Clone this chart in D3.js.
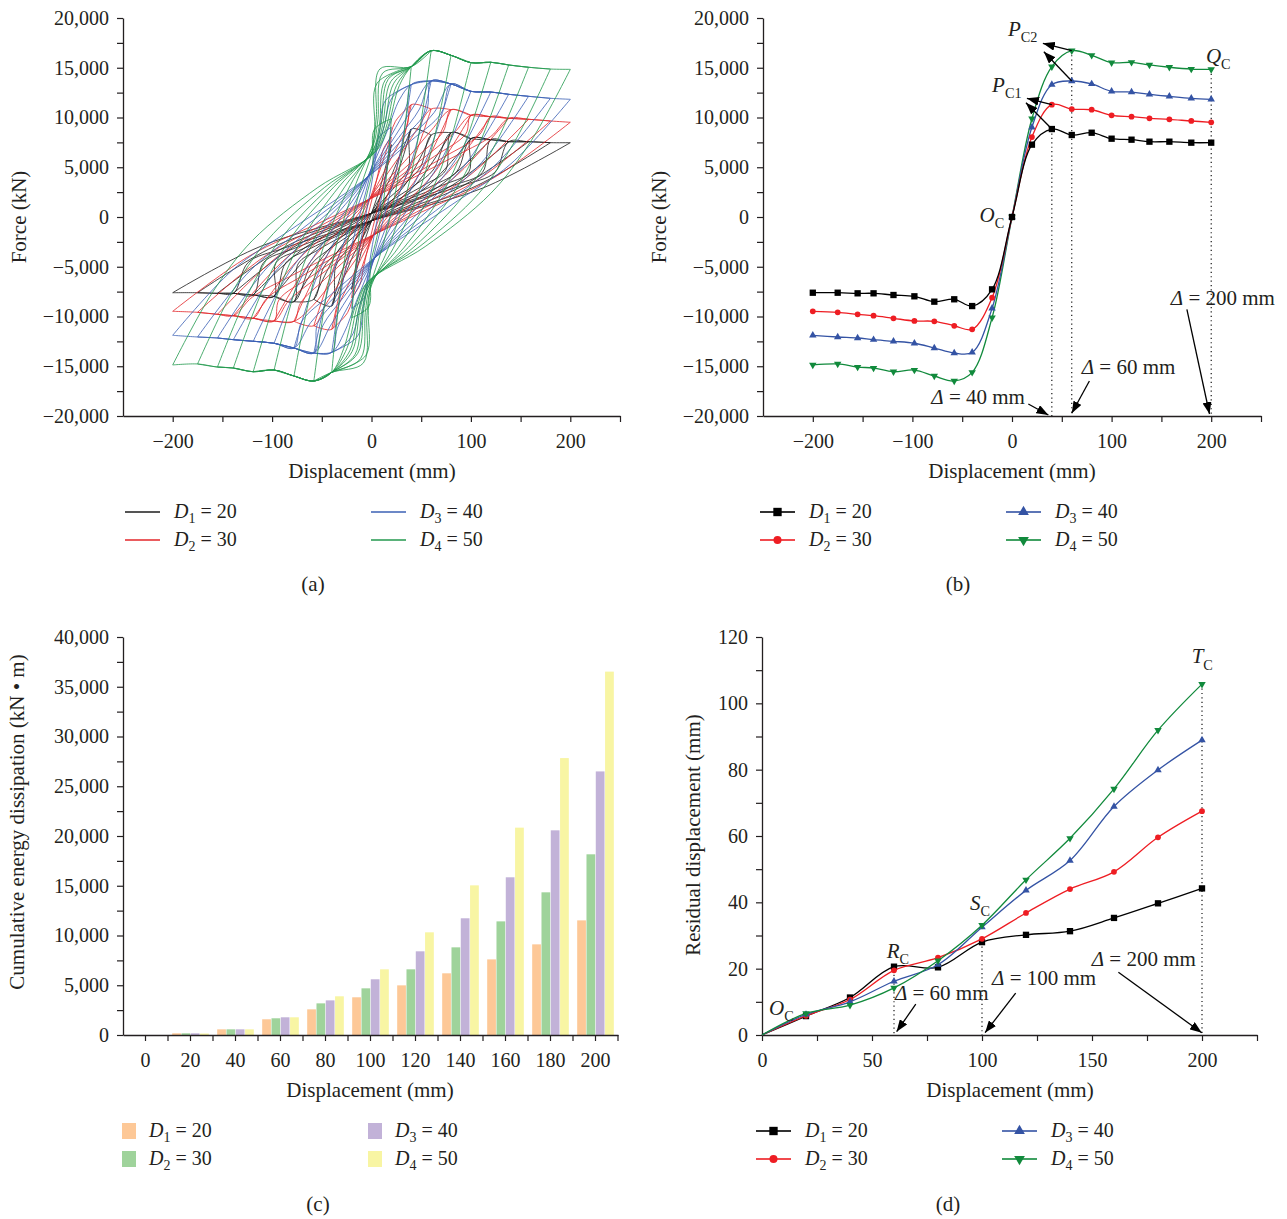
<!DOCTYPE html>
<html>
<head>
<meta charset="utf-8">
<script src="https://cdn.jsdelivr.net/npm/d3@7"></script>
<style>
body { margin: 0; background: #fff; }
svg { display: block; }
text { font-family: "Liberation Serif", "Times New Roman", serif; fill: #231f20; }
</style>
</head>
<body>
<script>
// ---- data ----
// skeleton (envelope) curves, panel (b); also the loop peaks of panel (a)
var skelX  = [-200,-175,-155,-139,-119,-98,-78,-58,-40,-20,0,20,40,60,80,100,120,138,158,180,200];
var skelD1 = [-7610,-7610,-7670,-7670,-7840,-7970,-8510,-8270,-8950,-7270,0,7270,8840,8240,8470,7870,7770,7570,7570,7470,7470];
var skelD2 = [-9480,-9580,-9780,-9920,-10180,-10450,-10480,-10930,-11290,-8110,0,8040,11290,10850,10780,10220,10080,9920,9820,9650,9520];
var skelD3 = [-11890,-12060,-12160,-12330,-12490,-12690,-13170,-13670,-13600,-9180,0,9020,13300,13670,13370,12630,12560,12330,12130,11930,11830];
var skelD4 = [-14870,-14770,-15080,-15180,-15550,-15380,-15980,-16480,-15610,-10120,0,9880,15110,16710,16250,15510,15550,15280,15050,14870,14840];

// loop shape of panel (a): loading branch from the negative peak, as fractions of peak (u = d/A, v = F/Fpeak)
var loopD1 = [[-1,-1],[-0.56,-0.39],[0,0.05],[0.45,0.42],[0.62,0.6]];
var loopD2 = [[-1,-1],[-0.62,-0.42],[-0.25,-0.05],[0.1,0.3],[0.4,0.62],[0.6,0.85]];
var loopD3 = [[-1,-1],[-0.7,-0.45],[-0.4,-0.1],[-0.05,0.3],[0.2,0.65],[0.35,0.88]];
var loopD4 = [[-1,-1],[-0.8,-0.51],[-0.6,-0.16],[-0.27,0.2],[0.02,0.44],[0.08,0.6],[0.14,0.89]];

// cumulative energy dissipation, panel (c)
var energyX  = [0,20,40,60,80,100,120,140,160,180,200];
var energyD1 = [0,170,570,1580,2580,3790,4990,6200,7600,9110,11520];
var energyD2 = [0,170,570,1680,3180,4690,6600,8810,11420,14340,18160];
var energyD3 = [0,170,570,1780,3480,5600,8410,11730,15850,20570,26490];
var energyD4 = [0,150,570,1780,3890,6600,10320,15040,20840,27830,36520];

// residual displacement, panel (d)
var resX  = [0,20,40,60,80,100,120,140,160,180,200];
var resD1 = [0,5.7,11.3,20.6,20.4,28,30.2,31.3,35.3,39.7,44.2];
var resD2 = [0,5.8,10.7,19.5,23.3,29,36.8,44,49.2,59.6,67.5];
var resD3 = [0,6.2,10,16.2,21.2,32.5,43.6,52.6,68.9,79.9,88.9];
var resD4 = [0,6.5,9,14.2,22.4,33.1,46.8,59.3,74.2,91.9,105.8];

// legend / tick labels
var seriesSub = ["1","2","3","4"];
var seriesVal = ["20","30","40","50"];
var dispLabels = [-200,-100,0,100,200];
var forceLabels = [-20000,-15000,-10000,-5000,0,5000,10000,15000,20000];
var energyLabels = [0,5000,10000,15000,20000,25000,30000,35000,40000];
var resXLabels = [0,50,100,150,200];
var resYLabels = [0,20,40,60,80,100,120];

var ink = "#231f20";
var lineColors = ["#000000","#ee1d23","#3453a4","#118a3c"];
var loopColors = ["#1c1c1c","#e3262a","#3b60b5","#23994e"];
var barColors  = ["#fdc897","#9fd39b","#c2b2d8","#f8f5a3"];
var symbols = [d3.symbolSquare, d3.symbolCircle, d3.symbolTriangle, d3.symbolTriangle];
var symSize = [40, 26, 24, 24];

var skel = [skelD1, skelD2, skelD3, skelD4];
var loops = [loopD1, loopD2, loopD3, loopD4];
var energy = [energyD1, energyD2, energyD3, energyD4];
var res = [resD1, resD2, resD3, resD4];

var svg = d3.select("body").append("svg").attr("width", 1287).attr("height", 1219);
var fmt = d3.format(",");

var defs = svg.append("defs");
defs.append("marker").attr("id", "arr")
  .attr("markerUnits", "userSpaceOnUse")
  .attr("markerWidth", 13).attr("markerHeight", 9)
  .attr("refX", 12).attr("refY", 4.5).attr("orient", "auto")
  .append("path").attr("d", "M0,0 L12,4.5 L0,9 Z").attr("fill", "#000");

function axes(g, x, y, xTicks, xLab, xFmt, yTicks, yLab, yFmt) {
  var gx = g.append("g").attr("transform", "translate(0," + y.range()[0] + ")")
    .call(d3.axisBottom(x).tickValues(xTicks).tickSize(6).tickSizeOuter(0).tickPadding(12)
      .tickFormat(function(d) { return xLab.indexOf(d) >= 0 ? xFmt(d) : ""; }));
  var gy = g.append("g").attr("transform", "translate(" + x.range()[0] + ",0)")
    .call(d3.axisLeft(y).tickValues(yTicks).tickSize(6).tickSizeOuter(0).tickPadding(8)
      .tickFormat(function(d) { return yLab.indexOf(d) >= 0 ? yFmt(d) : ""; }));
  [gx, gy].forEach(function(a) {
    a.select(".domain").attr("stroke", ink).attr("stroke-width", 1.3);
    a.selectAll(".tick line").attr("stroke", ink).attr("stroke-width", 1.2);
    a.selectAll(".tick text").attr("font-size", 20).attr("fill", ink)
      .attr("font-family", '"Liberation Serif","Times New Roman",serif');
  });
  return gx;
}

function title(g, txt, x, y, rot) {
  g.append("text").attr("transform", "translate(" + x + "," + y + ")" + (rot ? " rotate(-90)" : ""))
    .attr("text-anchor", "middle").attr("font-size", 21).text(txt);
}

function subLabel(g, x, y, main, sub, size) {
  var t = g.append("text").attr("x", x).attr("y", y).attr("font-size", size);
  t.append("tspan").attr("font-style", "italic").text(main);
  t.append("tspan").attr("font-size", size * 0.68).attr("dy", size * 0.3).text(sub);
  return t;
}

function deltaLabel(g, x, y, val) {
  var t = g.append("text").attr("x", x).attr("y", y).attr("font-size", 21);
  t.append("tspan").attr("font-style", "italic").text("\u0394");
  t.append("tspan").text(" = " + val + " mm");
}

function arrow(g, x1, y1, x2, y2) {
  g.append("line").attr("x1", x1).attr("y1", y1).attr("x2", x2).attr("y2", y2)
    .attr("stroke", "#000").attr("stroke-width", 1.3).attr("marker-end", "url(#arr)");
}

function dotted(g, x, y1, y2) {
  g.append("line").attr("x1", x).attr("x2", x).attr("y1", y1).attr("y2", y2)
    .attr("stroke", "#000").attr("stroke-width", 1.1).attr("stroke-dasharray", "1.2,3.2");
}

function legendText(g, x, y, i) {
  var t = g.append("text").attr("x", x).attr("y", y + 6).attr("font-size", 20);
  t.append("tspan").attr("font-style", "italic").text("D");
  t.append("tspan").attr("font-size", 14).attr("dy", 5).text(seriesSub[i]);
  t.append("tspan").attr("dy", -5).text(" = " + seriesVal[i]);
}

function symPath(i, size) { return d3.symbol(symbols[i], size)(); }
function symRot(i) { return i === 3 ? " rotate(180)" : ""; }

// legend: kind = "line" | "marker" | "rect"
function legend(g, x1, x2, y1, y2, kind) {
  [0, 1, 2, 3].forEach(function(i) {
    var x0 = i < 2 ? x1 : x2, y0 = i % 2 === 0 ? y1 : y2, tx;
    if (kind === "rect") {
      g.append("rect").attr("x", x0).attr("y", y0 - 8).attr("width", 14).attr("height", 16).attr("fill", barColors[i]);
      tx = x0 + 27;
    } else {
      g.append("line").attr("x1", x0).attr("x2", x0 + 35).attr("y1", y0).attr("y2", y0)
        .attr("stroke", kind === "line" ? loopColors[i] : lineColors[i])
        .attr("stroke-width", kind === "line" ? 1.4 : 2).attr("opacity", kind === "line" ? 1 : 0.8);
      if (kind === "marker") {
        g.append("path").attr("d", symPath(i, i === 0 ? 70 : 50)).attr("fill", lineColors[i])
          .attr("transform", "translate(" + (x0 + 17.5) + "," + y0 + ")" + symRot(i));
      }
      tx = x0 + 49;
    }
    legendText(g, tx, y0, i);
  });
}

function caption(g, x, y, txt) {
  g.append("text").attr("x", x).attr("y", y).attr("text-anchor", "middle").attr("font-size", 21).text(txt);
}

// ================= (a) hysteresis curves =================
var ga = svg.append("g");
var xa = d3.scaleLinear().domain([-250, 250]).range([123, 620]);
var ya = d3.scaleLinear().domain([-20000, 20000]).range([416, 18]);
axes(ga, xa, ya, d3.range(-200, 251, 50), dispLabels, fmt, d3.range(-20000, 20001, 2500), forceLabels, fmt);

var mid = skelX.indexOf(0);
function loopBranches(vals, shape) {
  var out = [];
  for (var k = 1; mid + k < skelX.length; k++) {
    var ip = mid + k, ineg = mid - k;
    var ap = skelX[ip], an = -skelX[ineg], fp = vals[ip], fn = -vals[ineg];
    // loading branch: negative peak -> positive peak, joining the envelope
    var up = shape.map(function(p) { return [p[0] < 0 ? p[0] * an : p[0] * ap, p[1] < 0 ? p[1] * fn : p[1] * fp]; });
    var last = up[up.length - 1], started = false;
    for (var j = mid + 1; j < ip; j++) {
      if (skelX[j] <= last[0]) continue;
      if (!started && vals[j] < last[1]) continue;
      started = true; up.push([skelX[j], vals[j]]);
    }
    up.push([ap, fp]);
    // unloading branch: positive peak -> negative peak (point-reflected shape)
    var dn = shape.map(function(p) { var u = -p[0], v = -p[1]; return [u < 0 ? u * an : u * ap, v < 0 ? v * fn : v * fp]; });
    last = dn[dn.length - 1]; started = false;
    for (j = mid - 1; j > ineg; j--) {
      if (skelX[j] >= last[0]) continue;
      if (!started && vals[j] > last[1]) continue;
      started = true; dn.push([skelX[j], vals[j]]);
    }
    dn.push([-an, -fn]);
    out.push(up, dn);
  }
  return out;
}

var loopLine = d3.line().x(function(d) { return xa(d[0]); }).y(function(d) { return ya(d[1]); })
  .curve(d3.curveCatmullRom.alpha(0.5));
[0, 1, 2, 3].forEach(function(i) {
  ga.append("g").selectAll("path").data(loopBranches(skel[i], loops[i])).join("path")
    .attr("d", loopLine).attr("fill", "none").attr("stroke", loopColors[i])
    .attr("stroke-width", 0.9).attr("stroke-opacity", 0.9);
});
title(ga, "Force (kN)", 26, 217, true);
title(ga, "Displacement (mm)", 372, 478, false);
legend(ga, 125, 371, 512, 540, "line");
caption(ga, 313, 591, "(a)");

// ================= (b) skeleton curves =================
var gb = svg.append("g");
var xb = d3.scaleLinear().domain([-250, 250]).range([763, 1261]);
var yb = d3.scaleLinear().domain([-20000, 20000]).range([416, 18]);
axes(gb, xb, yb, d3.range(-200, 251, 50), dispLabels, fmt, d3.range(-20000, 20001, 2500), forceLabels, fmt);

// dotted guides at 40, 60, 200 mm
[40, 60, 200].forEach(function(v) {
  var idx = skelX.indexOf(v);
  var top = d3.max(skel, function(s) { return s[idx]; });
  if (v === 40) top = skelD1[idx];
  dotted(gb, xb(v), yb(top), yb(-20000));
});

var skLine = d3.line().x(function(d) { return xb(d[0]); }).y(function(d) { return yb(d[1]); })
  .curve(d3.curveCatmullRom.alpha(0.5));
[3, 2, 1, 0].forEach(function(i) {
  var pts = skelX.map(function(x, j) { return [x, skel[i][j]]; });
  gb.append("path").datum(pts).attr("d", skLine).attr("fill", "none")
    .attr("stroke", lineColors[i]).attr("stroke-width", 1.3);
  gb.append("g").selectAll("path").data(pts).join("path")
    .attr("d", symPath(i, symSize[i])).attr("fill", lineColors[i])
    .attr("transform", function(d) { return "translate(" + xb(d[0]) + "," + yb(d[1]) + ")" + symRot(i); });
});

// annotations (b)
subLabel(gb, xb(-4), yb(18190), "P", "C2", 21);
subLabel(gb, xb(-20), yb(12590), "P", "C1", 21);
subLabel(gb, xb(194.7), yb(15480), "Q", "C", 21);
subLabel(gb, xb(-32.6), yb(-500), "O", "C", 21);
[[60,16710,31,17460],[60,13670,32,16610],[40,8840,14,11490],[40,11290,15,11930],
 [16.4,-18790,36.5,-19900],[77.7,-16480,60,-19730],[175.6,-9280,198.3,-19800]].forEach(function(a) {
  arrow(gb, xb(a[0]), yb(a[1]), xb(a[2]), yb(a[3]));
});
deltaLabel(gb, xb(-81), yb(-18790), "40");
deltaLabel(gb, xb(70), yb(-15780), "60");
deltaLabel(gb, xb(159.5), yb(-8840), "200");

title(gb, "Force (kN)", 666, 217, true);
title(gb, "Displacement (mm)", 1012, 478, false);
legend(gb, 760, 1006, 512, 540, "marker");
caption(gb, 958, 591, "(b)");

// ================= (c) energy dissipation bars =================
var gc = svg.append("g");
var xc = d3.scaleBand().domain(energyX).range([123, 618]);
var xs = d3.scaleBand().domain([0, 1, 2, 3]).range([0, xc.bandwidth()]).paddingInner(0.06).paddingOuter(0.45);
var yc = d3.scaleLinear().domain([0, 40000]).range([1035, 637]);

[0, 1, 2, 3].forEach(function(i) {
  gc.append("g").selectAll("rect").data(energyX).join("rect")
    .attr("x", function(d) { return xc(d) + xs(i); })
    .attr("width", xs.bandwidth())
    .attr("y", function(d, j) { return yc(energy[i][j]); })
    .attr("height", function(d, j) { return yc(0) - yc(energy[i][j]); })
    .attr("fill", barColors[i]);
});
var gcx = axes(gc, xc, yc, energyX, energyX, String, d3.range(0, 40001, 2500), energyLabels, fmt);
// tick marks at the category boundaries too
gcx.selectAll(".edge").data(energyX.slice(1)).join("line").attr("class", "edge")
  .attr("x1", function(d) { return xc(d); }).attr("x2", function(d) { return xc(d); })
  .attr("y1", 0).attr("y2", 6).attr("stroke", ink).attr("stroke-width", 1.2);
gcx.append("line").attr("x1", xc.range()[1]).attr("x2", xc.range()[1]).attr("y1", 0).attr("y2", 6)
  .attr("stroke", ink).attr("stroke-width", 1.2);

title(gc, "Cumulative energy dissipation (kN \u2022 m)", 24, 822, true);
title(gc, "Displacement (mm)", 370, 1097, false);
legend(gc, 122, 368, 1131, 1159, "rect");
caption(gc, 318, 1211, "(c)");

// ================= (d) residual displacement =================
var gd = svg.append("g");
var xd = d3.scaleLinear().domain([0, 225]).range([762, 1257]);
var yd = d3.scaleLinear().domain([0, 120]).range([1035, 637]);
axes(gd, xd, yd, d3.range(0, 226, 25), resXLabels, String, d3.range(0, 121, 10), resYLabels, String);

[[60, 19.5], [100, 28], [200, 105.8]].forEach(function(p) { dotted(gd, xd(p[0]), yd(p[1]), yd(0)); });

var resLine = d3.line().x(function(d) { return xd(d[0]); }).y(function(d) { return yd(d[1]); })
  .curve(d3.curveCatmullRom.alpha(0.5));
[0, 1, 2, 3].forEach(function(i) {
  var pts = resX.map(function(x, j) { return [x, res[i][j]]; });
  gd.append("path").datum(pts).attr("d", resLine).attr("fill", "none")
    .attr("stroke", lineColors[i]).attr("stroke-width", 1.3);
  gd.append("g").selectAll("path").data(pts.slice(1)).join("path")
    .attr("d", symPath(i, symSize[i])).attr("fill", lineColors[i])
    .attr("transform", function(d) { return "translate(" + xd(d[0]) + "," + yd(d[1]) + ")" + symRot(i); });
});

subLabel(gd, xd(3.2), yd(6.0), "O", "C", 21);
subLabel(gd, xd(56.7), yd(23.3), "R", "C", 21);
subLabel(gd, xd(94.5), yd(37.7), "S", "C", 21);
subLabel(gd, xd(195.3), yd(112.1), "T", "C", 21);
[[69.9,9.3,61.2,1.0],[115.3,12.6,101.4,0.7],[162,18.9,199.9,0.7]].forEach(function(a) {
  arrow(gd, xd(a[0]), yd(a[1]), xd(a[2]), yd(a[3]));
});
deltaLabel(gd, xd(60.4), yd(10.55), "60");
deltaLabel(gd, xd(104.6), yd(15.2), "100");
deltaLabel(gd, xd(149.9), yd(20.8), "200");

title(gd, "Residual displacement (mm)", 700, 835, true);
title(gd, "Displacement (mm)", 1010, 1097, false);
legend(gd, 756, 1002, 1131, 1159, "marker");
caption(gd, 948, 1211, "(d)");
</script>
</body>
</html>
